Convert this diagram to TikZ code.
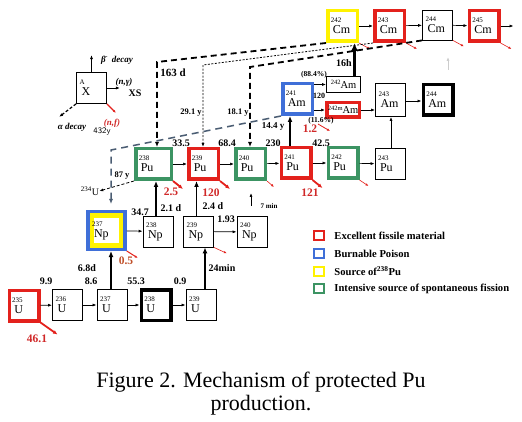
\documentclass[tikz,border=0pt]{standalone}
\usepackage{fontspec}
\setmainfont{Liberation Serif}
\usetikzlibrary{arrows.meta,positioning,calc}

\definecolor{fisred}{HTML}{E3211C}
\definecolor{poiblue}{HTML}{3F6FD8}
\definecolor{srcyel}{HTML}{FFF200}
\definecolor{sfgreen}{HTML}{3C9463}
\definecolor{labred}{HTML}{D02828}
\definecolor{labbrown}{HTML}{C0502A}
\definecolor{decblue}{HTML}{4B5D73}

% nuclide text: mass number over symbol
\newcommand{\iso}[2]{{\fontsize{7}{8}\selectfont #1}\\[-1pt]{\fontsize{12}{13}\selectfont\hspace*{2pt}#2}}
\newcommand{\isosm}[2]{\raisebox{3.5pt}{\fontsize{6.5}{7}\selectfont #1}{\fontsize{10.5}{11}\selectfont #2}}

\tikzset{
  nuc/.style={draw, line width=0.8pt, minimum height=31pt, text width=24pt,
    inner xsep=3pt, inner ysep=0pt, align=left},
  fis/.style={nuc, draw=fisred, line width=3.5pt, minimum height=30.5pt, text width=23.5pt},
  blk/.style={fis, draw=black},
  sfg/.style={fis, draw=sfgreen},
  poi/.style={fis, draw=poiblue},
  src/.style={fis, draw=srcyel},
  arr/.style={-{Latex[length=4pt,width=3pt]}, line width=0.7pt},
  uparr/.style={-{Latex[length=6pt,width=5pt]}, line width=1.6pt},
  fisarr/.style={-{Latex[length=4.5pt,width=4pt]}, draw=fisred, line width=1.8pt},
  fisthin/.style={-{Latex[length=3pt,width=2.5pt]}, draw=fisred, line width=0.6pt},
  kdash/.style={-{Latex[length=5pt,width=4pt]}, line width=1.8pt, dash pattern=on 6pt off 4pt},
  kdot/.style={-{Latex[length=4pt,width=3pt]}, line width=0.8pt, dash pattern=on 2pt off 1.5pt},
  bdash/.style={-{Latex[length=5pt,width=4pt]}, draw=decblue, line width=1.5pt, dash pattern=on 7pt off 5pt},
  lbl/.style={font=\bfseries\fontsize{10}{10}\selectfont, inner sep=0pt},
  rlbl/.style={inner sep=0pt, text=labred, font=\bfseries\fontsize{11.5}{11.5}\selectfont},
  slbl/.style={inner sep=0pt, font=\bfseries\fontsize{7}{7}\selectfont},
  ilbl/.style={inner sep=0pt, font=\bfseries\itshape\fontsize{9}{9}\selectfont},
  legbox/.style={draw=#1, line width=2.5pt, minimum width=10pt, minimum height=9pt, inner sep=0pt},
  legtxt/.style={inner sep=0pt, anchor=west, font=\bfseries\fontsize{10.6}{11}\selectfont}
}

\begin{document}
\begin{tikzpicture}[x=1pt,y=-1pt]
\useasboundingbox (0,0) rectangle (522,422);

% uranium row
\node[fis] (U235) at (24,305.5) {\iso{235}{U}};
\node[nuc] (U236) at (67.5,305) {\iso{236}{U}};
\node[nuc] (U237) at (112,305) {\iso{237}{U}};
\node[blk] (U238) at (156,305) {\iso{238}{U}};
\node[nuc] (U239) at (201,305) {\iso{239}{U}};
\draw[arr] (U235) -- (U236);
\draw[arr] (U236) -- (U237);
\draw[arr] (U237) -- (U238);
\draw[arr] (U238) -- (U239);
\node[lbl] at (46,281) {9.9};
\node[lbl] at (91,281) {8.6};
\node[lbl] at (136,281) {55.3};
\node[lbl] at (180,281) {0.9};
\node[lbl] at (87,268) {6.8d};
\node[lbl] at (222,268) {24min};
\draw[fisarr] (U235.south east) -- ++(17,12);
\node[rlbl] at (37,339) {46.1};

% neptunium row
\node[poi, text width=29pt, inner xsep=4pt, minimum height=37.5pt,
  path picture={\draw[srcyel, line width=12pt] (path picture bounding box.south west) rectangle (path picture bounding box.north east);}]
  (Np237) at (106.5,230.5) {\iso{237}{Np}};
\node[nuc] (Np238) at (158,231.5) {\iso{238}{Np}};
\node[nuc] (Np239) at (198.5,231.5) {\iso{239}{Np}};
\node[nuc] (Np240) at (252,232) {\iso{240}{Np}};
\draw[arr] (Np237) -- (Np238);
\draw[arr] (Np239) -- (Np240);
\draw[uparr] ([xshift=-1pt]U237.north) -- ([xshift=-1pt]U237.north |- Np237.south);
\draw[uparr] ([xshift=4pt]U239.north) -- ([xshift=4pt]U239.north |- Np239.south);
\node[lbl] at (140,212) {34.7};
\node[lbl] at (171,208) {2.1 d};
\node[lbl] at (213,206) {2.4 d};
\node[lbl] at (226,219) {1.93};
\draw[fisthin, line width=1pt] (Np237.south east) -- ++(11,7);
\node[rlbl, text=labbrown] at (126,261) {0.5};
\draw[fisthin] (Np239.south east) -- ++(13,6);
\coordinate (m7a) at (251,206);
\coordinate (m7b) at (251,193);
\draw[arr] (m7a) -- (m7b);
\node[slbl] at (269,206) {7 min};

% plutonium row
\node[sfg, text width=29.5pt] (Pu238) at (153.5,164) {\iso{238}{Pu}};
\node[fis] (Pu239) at (203.5,164) {\iso{239}{Pu}};
\node[sfg] (Pu240) at (250.5,164) {\iso{240}{Pu}};
\node[fis] (Pu241) at (296,163) {\iso{241}{Pu}};
\node[sfg] (Pu242) at (343,163) {\iso{242}{Pu}};
\node[nuc] (Pu243) at (390,164) {\iso{243}{Pu}};
\draw[arr] (Pu238) -- (Pu239);
\draw[arr] (Pu239) -- (Pu240);
\draw[arr] (Pu240) -- (Pu241);
\draw[arr] (Pu241) -- (Pu242);
\draw[arr] (Pu242) -- (Pu243);
\draw[uparr] ([xshift=-2pt]Np238.north) -- ([xshift=-2pt]Np238.north |- Pu238.south);
\draw[uparr] ([xshift=-2pt]Np239.north) -- ([xshift=-2pt]Np239.north |- Pu239.south);
\node[lbl] at (181,143) {33.5};
\node[lbl] at (227,143) {68.4};
\node[lbl] at (273,143) {230};
\node[lbl] at (321,143) {42.5};
\draw[fisarr] (Pu238.south east) -- ++(10,8);
\draw[fisarr] (Pu239.south east) -- ++(10,8);
\draw[fisthin] (Pu240.south east) -- ++(7,6);
\draw[fisarr] (Pu241.south east) -- ++(10,8);
\draw[fisthin] (Pu242.south east) -- ++(9,6);
\node[rlbl] at (171,192) {2.5};
\node[rlbl] at (211,193) {120};
\node[rlbl] at (310,193) {121};
\node[inner sep=0pt, font=\fontsize{10}{10}\selectfont] (U234) at (90,191) {\textsuperscript{234}U};
\draw[kdot, dash pattern=on 3pt off 2pt] (Pu238.south west) -- (U234.east);
\node[lbl, font=\bfseries\fontsize{8.5}{9}\selectfont] at (122,176) {87 y};

% americium row
\node[poi] (Am241) at (297.5,99) {\iso{241}{Am}};
\node[nuc, minimum height=16pt, text width=28pt, align=center] (Am242) at (343.5,84.5) {\isosm{242}{Am}};
\node[fis, minimum height=14.5pt, text width=30.5pt, inner xsep=1pt, align=center] (Am242m) at (343,110) {\isosm{242m}{Am}};
\node[nuc, minimum height=33pt] (Am243) at (390.5,100) {\iso{243}{Am}};
\node[blk, minimum height=30.5pt] (Am244) at (438,100) {\iso{244}{Am}};
\draw[arr] (Am241.east |- Am242) -- (Am242.west);
\draw[arr] (Am241.east |- Am242m) -- (Am242m.west);
\draw[arr] (Am242m.east) -- (Am243.west |- Am242m);
\draw[arr] (Am243.east |- 0,101) -- (Am244.west |- 0,101);
\draw[uparr, line width=1.3pt] ([xshift=-6pt]Pu241.north) -- ([xshift=-6pt]Pu241.north |- Am241.south);
\draw[arr] ([xshift=1pt]Pu243.north) -- ([xshift=1pt]Pu243.north |- Am243.south);
\node[slbl, font=\bfseries\fontsize{7.5}{7.5}\selectfont] at (314,75) {(88.4\%)};
\node[slbl, font=\bfseries\fontsize{8}{8}\selectfont] at (319,96) {120};
\node[slbl, font=\bfseries\fontsize{7.5}{7.5}\selectfont] at (321,121) {(11.6\%)};
\node[rlbl] at (310,129) {1.2};
\coordinate (f12) at (318,124);
\draw[fisthin, line width=0.8pt] (f12) -- ++(12,7);
\node[lbl, font=\bfseries\fontsize{9}{9}\selectfont] at (273,127) {14.4 y};

% curium row
\node[src] (Cm242) at (342.5,26) {\iso{242}{Cm}};
\node[fis] (Cm243) at (389.5,26) {\iso{243}{Cm}};
\node[nuc, minimum height=30pt] (Cm244) at (437.5,25) {\iso{244}{Cm}};
\node[fis] (Cm245) at (484,26) {\iso{245}{Cm}};
\draw[arr] (Cm242) -- (Cm243);
\draw[arr] (Cm243) -- (Cm244);
\draw[arr] (Cm244) -- (Cm245);
\draw[arr] (Cm245.east) -- ++(13,0);
\draw[fisthin] (Cm242.south east) -- ++(11,6);
\draw[fisthin] (Cm243.south east) -- ++(11,6);
\draw[fisthin] (Cm244.south east) -- ++(11,6);
\draw[fisthin] (Cm245.south east) -- ++(11,6);
\draw[-{Latex[length=8pt,width=7pt]}, line width=2.6pt] ([xshift=11pt]Am242.north) -- ([xshift=11pt]Am242.north |- Cm242.south);
\node[lbl] at (344,63) {16h};
\coordinate (fa) at (448,70);
\coordinate (fb) at (448,57);
\draw[arr, black!20] (fa) -- (fb);

% alpha decay paths
\coordinate (k1) at (157,62);
\coordinate (k2) at (203,65);
\coordinate (k3) at (250,67);
\coordinate (k4) at (111,150);
\draw[kdash] (Cm242.south west) -- (k1) -- (k1 |- Pu238.north);
\draw[kdot] (Cm243.south west) -- (k2) -- (k2 |- Pu239.north);
\draw[kdash] (Cm244.south west) -- (k3) -- (k3 |- Pu240.north);
\draw[bdash, shorten >=6pt] (Am241.south west) -- (k4) -- (k4 |- Np237.north);
\node[lbl, font=\bfseries\fontsize{11}{11}\selectfont] at (173,73) {163 d};
\node[lbl, font=\bfseries\fontsize{8.5}{9}\selectfont] at (191,113) {29.1 y};
\node[lbl, font=\bfseries\fontsize{8.5}{9}\selectfont] at (238,113) {18.1 y};
\node[inner sep=0pt, font=\sffamily\fontsize{8.5}{9}\selectfont] at (102,131) {432y};

% key nuclide
\node[nuc] (X) at (91.5,88) {\iso{A}{X}};
\draw[arr] (X.north) -- ++(0,-17);
\draw[arr] (X.east) -- ++(13,0);
\draw[arr, dash pattern=on 3pt off 2pt, line width=1.2pt] (X.south west) -- ++(-17,13);
\draw[fisthin, line width=1.2pt] (X.south east) -- ++(9,9);
\node[ilbl] at (117,60) {β\textsuperscript{-}\, decay};
\node[ilbl] at (124,82) {(n,γ)};
\node[lbl] at (135,93) {XS};
\node[ilbl] at (72,127) {α decay};
\node[ilbl, text=labred] at (112,123) {(n,f)};

% legend
\node[legbox=fisred] (lgFis) at (319,235.5) {};
\node[legbox=poiblue] (lgPoi) at (319,253.5) {};
\node[legbox=srcyel] (lgSrc) at (319,271.5) {};
\node[legbox=sfgreen] (lgSf) at (319,288.5) {};
\node[legtxt, right=9pt of lgFis] {Excellent fissile material};
\node[legtxt, right=9pt of lgPoi] {Burnable Poison};
\node[legtxt, right=9pt of lgSrc] {Source of\textsuperscript{238}Pu};
\node[legtxt, right=9pt of lgSf] {Intensive source of spontaneous fission};

% caption
\node[align=center, inner sep=0pt, font=\fontsize{22}{23}\selectfont] (cap) at (261,394) {Figure 2. Mechanism of protected Pu\\production.};
\end{tikzpicture}
\end{document}
